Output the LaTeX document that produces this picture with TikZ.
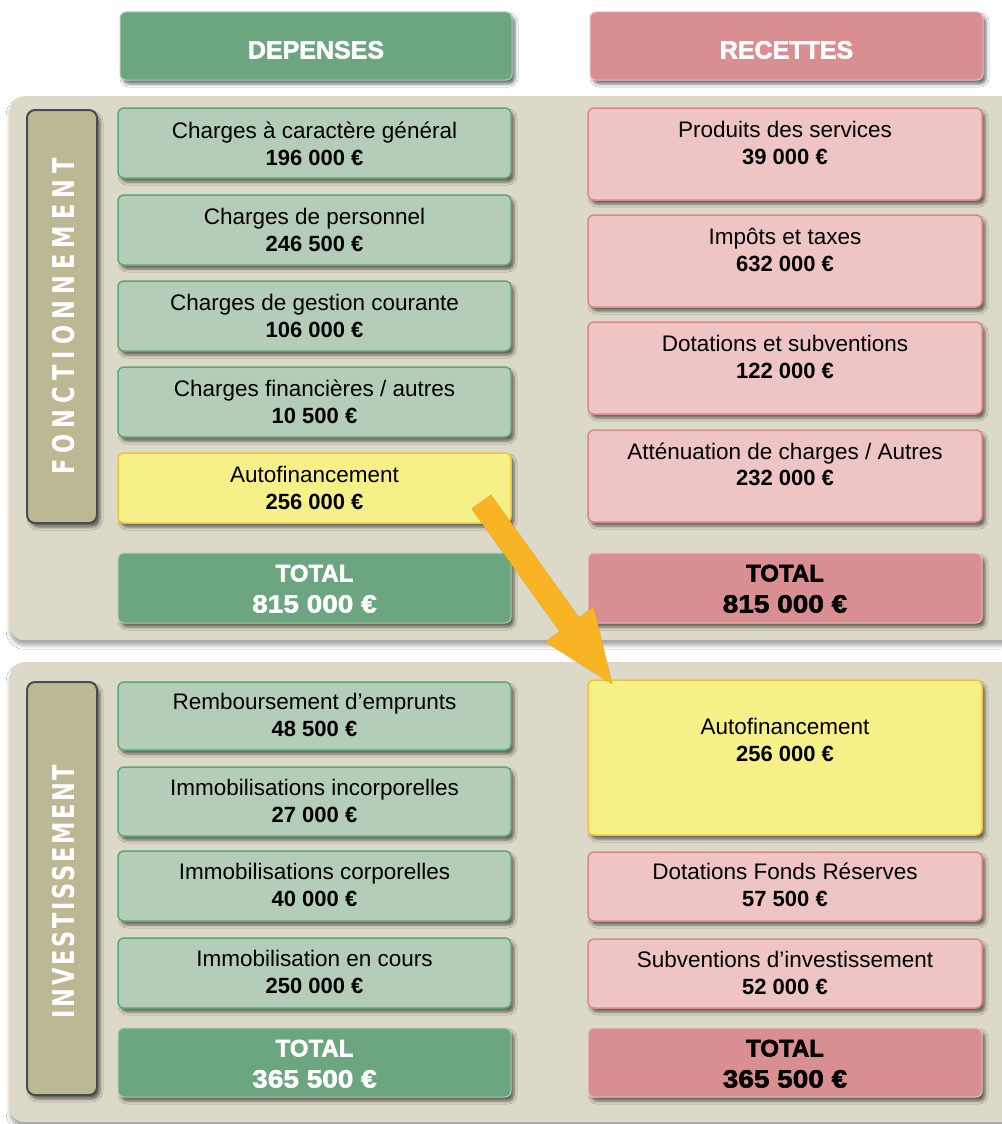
\documentclass[tikz,border=0pt]{standalone}
\usepackage{fontspec}
\usepackage{graphicx}
\setmainfont{Liberation Sans}
\newfontfamily\hvy[FakeBold=2.2]{Liberation Sans Bold}
\newfontfamily\hvyw[FakeStretch=1.12,FakeBold=2.2]{Liberation Sans Bold}
\newfontfamily\sidefa[LetterSpace=27]{DejaVu Sans}
\newfontfamily\sidefb[LetterSpace=12]{DejaVu Sans}
\usetikzlibrary{calc,shadows.blur}
\definecolor{panelC}{HTML}{DDD9C8}
\definecolor{hdrG}{HTML}{6BA680}
\definecolor{lgG}{HTML}{B4CDB9}
\definecolor{bdG}{HTML}{5FA578}
\definecolor{hdrP}{HTML}{D98E92}
\definecolor{lgP}{HTML}{EEC4C5}
\definecolor{bdP}{HTML}{DC878C}
\definecolor{yelF}{HTML}{F5F087}
\definecolor{yelB}{HTML}{F5C332}
\definecolor{sideC}{HTML}{BDB894}
\definecolor{sideB}{HTML}{464B50}
\definecolor{arrC}{HTML}{F8B423}
\newcommand\bx[6]{\node[#6, minimum width={#4-#2}, minimum height={#5-#3}] (#1) at ({(#2+#4)/2},{(#3+#5)/2}) {};}
\newcommand\twol[5]{%
  \node[lineA] (#1-a) at ($(#1.north)+(0,#4)$) {#2};
  \node[lineB] (#1-b) at ($(#1.north)+(0,#5)$) {#3};}
\newcommand\totl[3]{%
  \node[totA, text=#3] (#1-a) at ($(#1.north)+(0,29)$) {TOTAL};
  \node[totB, text=#3] (#1-b) at ($(#1.north)+(0,60)$) {#2};}
\begin{document}
\begin{tikzpicture}[x=1pt,y=-1pt,
  sh/.style={blur shadow={shadow xshift=3pt, shadow yshift=-4pt, shadow blur radius=3pt, shadow opacity=55}},
  panel/.style={fill=panelC, rounded corners=14pt, inner sep=0pt, anchor=north west,
     blur shadow={shadow xshift=0pt, shadow yshift=-5pt, shadow blur radius=4pt, shadow opacity=35}},
  base/.style={rectangle, rounded corners=6pt, inner sep=0pt, sh},
  gbox/.style={base, fill=lgG, draw=bdG, line width=1.5pt},
  pbox/.style={base, fill=lgP, draw=bdP, line width=1.5pt},
  ybox/.style={base, fill=yelF, draw=yelB, line width=1.5pt},
  ghdr/.style={base, fill=hdrG, draw=hdrG!55!white, line width=1pt},
  phdr/.style={base, fill=hdrP, draw=hdrP!55!white, line width=1pt},
  side/.style={base, rounded corners=8pt, fill=sideC, draw=sideB, line width=2pt},
  lineA/.style={anchor=base, inner sep=0pt, font=\fontsize{22.5}{26}\selectfont},
  lineB/.style={anchor=base, inner sep=0pt, font=\fontsize{22}{26}\selectfont\bfseries},
  hdrT/.style={anchor=base, inner sep=0pt, text=white, font=\hvy\fontsize{25}{30}\selectfont},
  totA/.style={anchor=base, inner sep=0pt, font=\hvy\fontsize{24}{28}\selectfont},
  totB/.style={anchor=base, inner sep=0pt, font=\hvyw\fontsize{25}{30}\selectfont},
  sideT/.style={inner sep=0pt, text=white, rotate=90}
]
\useasboundingbox (0,0) rectangle (1001,1124);
\fill[white] (0,0) rectangle (1001,1124);
% panels
\node[panel, minimum width=1040, minimum height=544] (fpanel) at (10,96) {};
\node[panel, minimum width=1040, minimum height=460] (ipanel) at (10,662) {};
% headers
\bx{hdep}{120}{12}{512}{80}{ghdr}
\bx{hrec}{590}{12}{983}{80}{phdr}
\node[hdrT] (hdep-t) at ($(hdep.north)+(0,47)$) {DEPENSES};
\node[hdrT] (hrec-t) at ($(hrec.north)+(0,47)$) {RECETTES};
% side labels
\bx{sfon}{27}{110}{97}{523}{side}
\bx{sinv}{27}{682}{97}{1095}{side}
\node[sideT, font=\sidefa\bfseries\fontsize{30}{32}\selectfont] (sfon-t) at ($(sfon.center)+(2,0)$) {\scalebox{0.75}[1]{FONCTIONNEMENT}};
\node[sideT, font=\sidefb\bfseries\fontsize{30}{32}\selectfont] (sinv-t) at ($(sinv.center)+(2,3)$) {\scalebox{0.75}[1]{INVESTISSEMENT}};
% fonctionnement depenses
\bx{d1}{118}{108}{511}{178}{gbox}
\bx{d2}{118}{195}{511}{265}{gbox}
\bx{d3}{118}{281}{511}{351}{gbox}
\bx{d4}{118}{367}{511}{437}{gbox}
\bx{autoL}{118}{453}{511}{523}{ybox}
\bx{dtot}{118}{553}{511}{623}{ghdr}
\twol{d1}{Charges à caractère général}{196 000 €}{31}{58}
\twol{d2}{Charges de personnel}{246 500 €}{30}{57}
\twol{d3}{Charges de gestion courante}{106 000 €}{30}{57}
\twol{d4}{Charges financières / autres}{10 500 €}{30}{57}
\twol{autoL}{Autofinancement}{256 000 €}{30}{57}
\totl{dtot}{815 000 €}{white}
% fonctionnement recettes
\bx{r1}{588}{108}{982}{200}{pbox}
\bx{r2}{588}{215}{982}{307}{pbox}
\bx{r3}{588}{322}{982}{414}{pbox}
\bx{r4}{588}{430}{982}{522}{pbox}
\bx{rtot}{588}{553}{982}{623}{phdr}
\twol{r1}{Produits des services}{39 000 €}{30}{57}
\twol{r2}{Impôts et taxes}{632 000 €}{30}{57}
\twol{r3}{Dotations et subventions}{122 000 €}{30}{57}
\twol{r4}{Atténuation de charges / Autres}{232 000 €}{30}{56}
\totl{rtot}{815 000 €}{black}
% investissement depenses
\bx{i1}{118}{682}{511}{750}{gbox}
\bx{i2}{118}{767}{511}{836}{gbox}
\bx{i3}{118}{851}{511}{921}{gbox}
\bx{i4}{118}{938}{511}{1008}{gbox}
\bx{itot}{118}{1028}{511}{1097}{ghdr}
\twol{i1}{Remboursement d’emprunts}{48 500 €}{28}{55}
\twol{i2}{Immobilisations incorporelles}{27 000 €}{29.5}{56}
\twol{i3}{Immobilisations corporelles}{40 000 €}{29}{56}
\twol{i4}{Immobilisation en cours}{250 000 €}{29}{56}
\totl{itot}{365 500 €}{white}
% investissement recettes
\bx{autoR}{588}{680}{982}{835}{ybox}
\bx{j2}{588}{852}{982}{921}{pbox}
\bx{j3}{588}{939}{982}{1008}{pbox}
\bx{jtot}{588}{1028}{982}{1097}{phdr}
\twol{autoR}{Autofinancement}{256 000 €}{55}{82}
\twol{j2}{Dotations Fonds Réserves}{57 500 €}{28}{55}
\twol{j3}{Subventions d’investissement}{52 000 €}{29}{56}
\totl{jtot}{365 500 €}{black}
% arrow
\coordinate (arrA) at ($(autoL.south east)+(-30.5,-22)$);
\coordinate (arrB) at ($(autoR.north west)+(25,5)$);
\coordinate (arrC) at ($(arrA)!151pt!(arrB)$);
\def\arrowpath{($(arrA)!12pt!90:(arrB)$) -- ($(arrC)!12pt!-90:(arrA)$) -- ($(arrC)!30pt!-90:(arrA)$) -- (arrB) -- ($(arrC)!30pt!90:(arrA)$) -- ($(arrC)!12pt!90:(arrA)$) -- ($(arrA)!12pt!-90:(arrB)$) -- cycle}
\begin{scope}[shift={(4,5)}]
\fill[black, opacity=0.35] \arrowpath;
\end{scope}
\fill[arrC] \arrowpath;
\end{tikzpicture}
\end{document}
